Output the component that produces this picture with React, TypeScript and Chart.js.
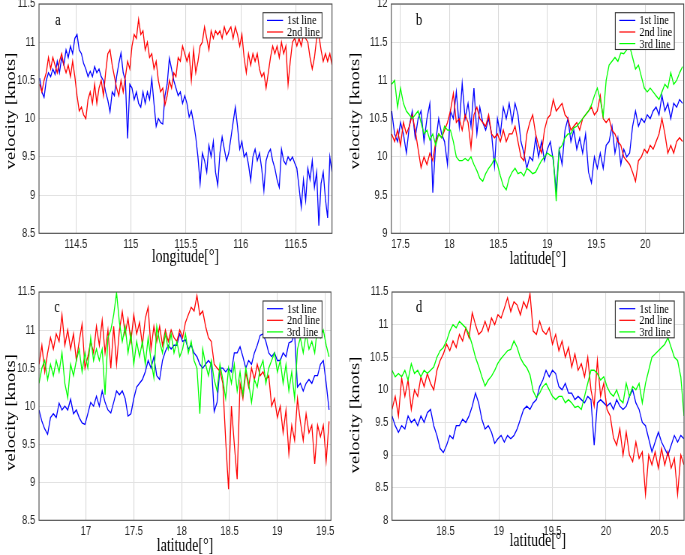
import React, { useEffect, useRef } from "react";
import { Chart, registerables } from "chart.js";

Chart.register(...registerables);

// ---------------- DATA ----------------
const SERIES_NAMES = ["1st line", "2nd line", "3rd line"];
const SERIES_COLORS = ["#0000ff", "#ff0000", "#00ff00"];
const Y_TITLE = "velocity [knots]";

// Panel a (longitude)
const A_X_START = 114.17;
const A_X_STEP = 0.02;
const A_X_TICKS = [114.5, 115, 115.5, 116, 116.5];
const A_Y_TICKS = [8.5, 9, 9.5, 10, 10.5, 11, 11.5];
const A_LINE1 = [
  10.53, 10.35, 10.28, 10.5, 10.6, 10.55, 10.65, 10.58, 10.75, 10.6,
  10.8, 10.7, 10.9, 10.8, 10.95, 10.85, 11.05, 11.1, 10.9, 10.85,
  10.72, 10.65, 10.55, 10.62, 10.55, 10.68, 10.6, 10.65, 10.55, 10.5,
  10.35, 10.24, 10.09, 10.35, 10.3, 10.55, 10.72, 10.86, 10.6, 10.5,
  9.74, 10.45, 10.4, 10.25, 10.35, 10.2, 10.15, 10.35, 10.2, 10.35,
  10.25, 10.52, 10.2, 9.9, 10.0, 9.95, 9.93, 10.3, 10.45, 10.79,
  10.65, 10.5, 10.4, 10.3, 10.35, 10.2, 10.3, 10.2, 10.02, 10.1,
  9.95, 9.76, 9.5, 9.15, 9.55, 9.45, 9.3, 9.65, 9.5, 9.7,
  9.3, 9.13, 9.55, 9.76, 9.6, 9.45, 9.55, 9.75, 9.95, 10.15,
  9.9, 9.6, 9.7, 9.5, 9.55, 9.4, 9.19, 9.5, 9.6, 9.45,
  9.55, 9.35, 9.06, 9.45, 9.55, 9.6, 9.45, 9.35, 9.2, 9.1,
  9.6, 9.45, 9.4, 9.5, 9.45, 9.5, 9.42, 9.35, 9.1, 8.84,
  9.2, 8.93, 9.35, 9.2, 9.45, 9.1, 9.3, 8.6, 9.15, 9.3,
  8.95, 8.7, 9.5, 9.3,
];
const A_LINE2 = [
  10.45, 10.35, 10.5, 10.6, 10.8, 10.65, 10.8, 10.7, 10.6, 10.75,
  10.85, 10.7, 10.6, 10.7, 10.55, 10.75, 10.55, 10.3, 10.1, 10.15,
  10.05, 10.0, 10.25, 10.35, 10.2, 10.45, 10.2, 10.4, 10.5, 10.3,
  10.6, 10.85, 10.9, 10.7, 10.55, 10.4, 10.3, 10.5, 10.35, 10.55,
  10.75, 10.65, 10.95, 11.1, 11.05, 11.3, 11.1, 11.15, 10.9, 11.0,
  10.8, 10.85, 10.65, 10.75, 10.5, 10.35, 10.4, 10.18, 10.3, 10.5,
  10.4, 10.6, 10.55, 10.8, 10.75, 10.95, 10.85, 10.75, 10.85, 10.5,
  10.9, 10.6, 10.75, 10.95, 11.0, 11.2, 11.05, 10.9, 11.15, 11.05,
  11.15, 11.1, 11.15, 11.05, 11.2, 11.1, 11.15, 11.2, 11.05, 11.2,
  11.1, 10.95, 11.1, 10.8, 10.6, 10.85, 10.7, 10.85, 10.75, 10.85,
  10.65, 10.55, 10.6, 10.4, 10.6, 10.8, 10.95, 10.85, 10.95, 10.8,
  11.0, 10.85, 10.95, 10.45, 10.75, 11.0, 11.05, 10.95, 11.05, 10.95,
  11.1, 11.05, 11.0, 10.8, 10.65, 10.8, 11.05, 11.1, 10.9, 10.75,
  10.85, 10.75, 10.85, 10.7,
];

// Panel b (latitude)
const B_X_START = 17.41;
const B_X_STEP = 0.03;
const B_X_TICKS = [17.5, 18, 18.5, 19, 19.5, 20];
const B_Y_TICKS = [9, 9.5, 10, 10.5, 11, 11.5, 12];
const B_LINE1 = [
  10.6, 10.3, 10.2, 10.45, 10.3, 10.05, 10.4, 10.6, 10.25, 10.5,
  10.6, 10.2, 10.5, 10.7, 9.53, 10.2, 10.5, 10.3, 10.2, 9.9,
  10.6, 10.5, 10.85, 10.4, 10.96, 10.5, 10.7, 10.4, 10.9, 10.3,
  10.65, 10.45, 10.35, 10.5, 10.3, 9.88, 10.5, 10.3, 10.65, 10.5,
  10.7, 10.45, 10.7, 10.55, 10.2, 10.05, 9.85, 10.0, 9.95, 10.25,
  10.0, 10.2, 9.95, 10.1, 10.2, 9.95, 9.56, 10.1, 9.9, 10.35,
  10.5, 10.2, 10.35, 10.1, 10.25, 10.05, 10.3, 9.8, 9.66, 10.0,
  9.85, 10.05, 9.85, 10.15, 10.2, 10.4, 10.05, 10.25, 9.9, 10.1,
  10.0, 10.05, 10.4, 10.6, 10.4, 10.5, 10.45, 10.55, 10.5, 10.6,
  10.65, 10.55, 10.8, 10.6, 10.7, 10.5, 10.7, 10.65, 10.75, 10.7,
];
const B_LINE2 = [
  10.3, 10.2, 10.35, 10.15, 10.45, 10.3, 10.4, 10.55, 10.35, 10.1,
  9.86, 10.0, 9.9, 10.05, 9.95, 10.2, 10.3, 10.25, 10.35, 10.45,
  10.6, 10.83, 10.45, 10.5, 10.35, 10.55, 10.45, 10.12, 10.55, 10.65,
  10.5, 10.45, 10.4, 10.55, 10.3, 10.25, 10.3, 10.2, 10.35, 10.2,
  10.3, 10.3, 10.4, 10.2, 10.0, 9.95, 10.3, 10.45, 10.55, 10.3,
  10.15, 10.05, 10.35, 10.5, 10.55, 10.75, 10.6, 10.65, 10.7, 10.55,
  10.5, 10.35, 10.4, 10.45, 10.35, 10.5, 10.55, 10.6, 10.65, 10.55,
  10.6, 10.8, 10.5, 10.45, 10.5, 10.35, 10.3, 10.2, 10.15, 10.0,
  9.95, 9.9, 9.8, 9.68, 9.95, 10.0, 10.1, 10.05, 10.15, 10.1,
  10.2, 10.3, 10.5, 10.3, 10.05, 10.15, 10.05, 10.2, 10.25, 10.2,
];
const B_LINE3 = [
  10.95, 11.0, 10.65, 10.9, 10.7, 10.6, 10.55, 10.5, 10.55, 10.6,
  10.45, 10.3, 10.35, 10.22, 10.3, 10.15, 10.3, 10.25, 10.4, 10.35,
  10.35, 10.2, 10.0, 9.95, 9.95, 9.98, 9.95, 10.0, 9.9, 9.82,
  9.72, 9.68, 9.78, 9.85, 9.9, 9.98, 9.9, 9.75, 9.62, 9.57,
  9.72, 9.8, 9.85, 9.78, 9.8, 9.75, 9.85, 9.82, 9.78, 9.8,
  9.88, 9.95, 10.0, 10.05, 10.02, 10.0, 9.42, 10.1, 10.15, 10.25,
  10.3, 10.3, 10.38, 10.4, 10.45, 10.5, 10.55, 10.6, 10.68, 10.8,
  10.9, 10.75, 10.53, 11.0, 11.2, 11.25, 11.3, 11.25, 11.36, 11.35,
  11.4, 11.45, 11.3, 11.15, 11.2, 11.05, 10.9, 10.85, 10.9, 10.85,
  10.8, 10.75, 10.85, 10.95, 10.9, 11.1, 10.95, 11.0, 11.1, 11.18,
];

// Panel c (latitude)
const C_X_START = 16.51;
const C_X_STEP = 0.03;
const C_X_TICKS = [17, 17.5, 18, 18.5, 19, 19.5];
const C_Y_TICKS = [8.5, 9, 9.5, 10, 10.5, 11, 11.5];
const C_LINE1 = [
  9.95, 9.8, 9.7, 9.63, 9.85, 9.9, 9.85, 10.04, 9.95, 10.0,
  9.95, 10.09, 9.9, 9.95, 9.85, 9.78, 9.76, 9.9, 10.05, 10.0,
  10.13, 10.0, 10.2, 10.05, 9.95, 9.91, 10.05, 10.2, 10.15, 10.2,
  10.1, 9.87, 9.9, 10.1, 10.25, 10.3, 10.35, 10.45, 10.6, 10.5,
  10.65, 10.4, 10.35, 10.6, 10.72, 10.8, 10.75, 10.8, 10.8, 10.95,
  10.85, 10.87, 10.75, 10.8, 10.7, 10.65, 10.55, 10.5, 10.55, 10.6,
  10.55, 9.93, 10.05, 10.5, 10.5, 10.45, 10.5, 10.45, 10.7, 10.7,
  10.78, 10.65, 10.5, 10.6, 10.55, 10.7, 10.8, 10.93, 10.95, 10.85,
  10.7, 10.65, 10.7, 10.6, 10.6, 10.7, 10.65, 10.83, 10.85, 10.95,
  10.25, 10.3, 10.2, 10.3, 10.35, 10.3, 10.4, 10.4, 10.55, 10.6,
  10.3, 9.95,
];
const C_LINE2 = [
  10.55, 10.8, 10.45, 10.7, 10.9, 10.75, 10.95, 10.85, 11.2, 10.8,
  11.0, 10.75, 10.95, 10.6, 10.85, 11.08, 10.5, 10.65, 10.85, 10.7,
  11.05, 10.8, 11.13, 10.7, 11.0, 10.5, 11.05, 10.55, 11.0, 11.24,
  10.95, 11.15, 10.85, 11.2, 10.95, 11.1, 10.8, 11.15, 11.3, 10.75,
  11.05, 10.85, 11.05, 10.8, 11.0, 10.85, 11.0, 10.9, 10.85, 11.0,
  10.9, 11.1, 11.2, 11.3, 11.25, 11.45, 11.2, 11.25, 11.05, 10.9,
  10.85, 10.55, 10.5, 10.46, 10.3, 9.55, 8.91, 10.0, 9.5, 9.04,
  10.3, 10.1, 10.45, 10.25, 10.5, 10.35, 10.55, 10.4, 10.45, 10.35,
  10.4, 10.0, 10.1, 9.85, 10.0, 9.65, 9.95, 9.37, 9.75, 9.55,
  10.1, 9.8, 9.55, 9.9, 9.65, 9.75, 9.24, 9.75, 9.6, 9.75,
  9.28, 9.8,
];
const C_LINE3 = [
  10.3, 10.5, 10.6, 10.35, 10.55, 10.4, 10.6, 10.45, 10.7, 10.3,
  10.11, 10.55, 10.4, 10.6, 10.75, 10.45, 10.7, 10.5, 10.9, 10.6,
  10.75, 10.6, 10.75, 10.15, 10.9, 11.0, 11.2, 11.49, 11.1, 10.85,
  11.05, 10.7, 10.95, 10.55, 10.85, 10.65, 10.85, 10.55, 10.9, 10.6,
  10.37, 11.05, 10.85, 10.7, 10.95, 10.75, 10.95, 10.7, 10.85, 10.65,
  10.75, 10.95, 10.7, 10.85, 10.6, 10.5, 9.9, 10.75, 10.55, 10.4,
  10.6, 10.35, 10.2, 10.55, 10.35, 10.1, 10.5, 10.3, 10.55, 10.2,
  10.45, 10.15, 10.5, 10.3, 10.05, 10.35, 10.25, 10.5, 10.6, 10.3,
  10.5, 10.6, 10.7, 10.45, 10.6, 10.3, 10.55, 10.2, 10.45, 10.1,
  10.75, 10.9, 10.7, 10.95, 10.75, 10.85, 10.7, 11.06, 10.9, 11.0,
  10.8, 10.65,
];

// Panel d (latitude)
const D_X_START = 18.0;
const D_X_STEP = 0.03;
const D_X_TICKS = [18.5, 19, 19.5, 20, 20.5];
const D_Y_TICKS = [8, 8.5, 9, 9.5, 10, 10.5, 11, 11.5];
const D_LINE1 = [
  9.6, 9.45, 9.35, 9.45, 9.4, 9.6, 9.5, 9.55, 9.45, 9.6,
  9.5, 9.65, 9.7, 9.45, 9.3, 9.1, 9.04, 9.15, 9.3, 9.25,
  9.45, 9.45, 9.55, 9.5, 9.6, 9.75, 9.95, 9.8, 9.55, 9.4,
  9.45, 9.35, 9.18, 9.25, 9.3, 9.2, 9.3, 9.25, 9.3, 9.4,
  9.55, 9.7, 9.75, 9.7, 9.8, 9.85, 10.05, 10.15, 10.3, 10.2,
  10.3, 10.25, 10.05, 10.0, 10.1, 9.95, 9.95, 9.85, 9.9, 9.85,
  9.8, 9.9, 9.85, 9.15, 9.8, 9.85, 9.8, 9.75, 9.8, 9.7,
  9.85, 9.75, 9.7, 9.75, 9.9, 10.0, 9.8, 9.7, 9.5, 9.45,
  9.25, 9.05, 9.2, 9.35, 9.2, 9.1, 9.0, 9.15, 9.3, 9.2,
  9.3, 9.25,
];
const D_LINE2 = [
  9.7, 9.9, 9.6, 10.18, 9.9, 10.15, 9.7, 10.0, 9.9, 10.2,
  10.05, 10.25, 10.1, 10.0, 10.3, 10.45, 10.55, 10.7, 10.6, 10.75,
  10.65, 10.85, 10.75, 10.95, 10.8, 11.18, 11.0, 10.85, 10.9, 11.05,
  10.9, 11.1, 11.0, 11.15, 11.1, 11.25, 11.41, 11.2, 11.35, 11.3,
  11.15, 11.35, 11.25, 11.47, 10.9, 10.85, 11.05, 10.9, 10.85, 10.95,
  10.7, 10.85, 10.6, 10.75, 10.5, 10.65, 10.35, 10.55, 10.3, 10.4,
  10.2, 10.5, 10.0, 9.75, 10.45, 9.9, 10.1, 9.7, 9.6, 9.27,
  9.15, 9.4, 9.0, 9.35, 9.0, 8.9, 9.2, 8.95, 9.05, 8.4,
  9.0, 8.85, 9.05, 8.8, 9.1, 8.85, 9.05, 8.8, 8.95, 8.4,
  9.0, 8.85,
];
const D_LINE3 = [
  10.3, 10.2, 10.25, 10.2, 10.3, 10.15, 10.4, 10.25, 10.3, 10.2,
  10.3, 10.25, 10.3, 10.35, 10.5, 10.6, 10.65, 10.75, 10.9, 11.0,
  10.95, 11.05, 11.0, 10.95, 10.85, 10.69, 10.5, 10.36, 10.2, 10.06,
  10.15, 10.21, 10.3, 10.41, 10.48, 10.54, 10.6, 10.62, 10.75, 10.65,
  10.49, 10.4, 10.34, 10.23, 9.98, 9.88, 9.95, 10.05, 10.1, 10.0,
  9.9, 9.85, 9.9, 9.9, 9.8, 9.85, 9.8, 9.73, 9.75, 9.7,
  9.9, 10.1, 10.3, 10.3, 10.25, 10.15, 10.2, 10.05, 9.95, 9.9,
  10.0, 9.85, 9.8, 10.1, 9.9, 10.05, 10.0, 10.1, 9.8, 10.1,
  10.3, 10.5, 10.55, 10.6, 10.65, 10.7, 10.8, 10.65, 10.5, 10.45,
  10.2, 9.6,
];

// ---------------- LAYOUT / STYLE ----------------
const SQ = 0.75; // horizontal squeeze of the original figure
const FONT_SANS = '"Liberation Sans", Arial, Helvetica, sans-serif';
const FONT_SERIF = '"Liberation Serif", "Times New Roman", Times, serif';

type PanelSpec = {
  key: string;
  pageX: number;
  pageY: number;
  pageW: number;
  pageH: number;
  area: { l: number; r: number; t: number; b: number };
  xMin: number;
  xMax: number;
  yMin: number;
  yMax: number;
  xTicks: number[];
  yTicks: number[];
  x0: number;
  dx: number;
  lines: number[][];
  xTitle: string;
  letterPos: [number, number];
  yTitlePos: [number, number];
  xTitlePos: [number, number];
  legendPos: [number, number];
};

const PANELS: PanelSpec[] = [
  {
    key: "a", pageX: 0, pageY: 0, pageW: 342, pageH: 277,
    area: { l: 52, r: 442.7, t: 4, b: 233.3 },
    xMin: 114.164, xMax: 116.83, yMin: 8.5, yMax: 11.5,
    xTicks: A_X_TICKS, yTicks: A_Y_TICKS, x0: A_X_START, dx: A_X_STEP,
    lines: [A_LINE1, A_LINE2], xTitle: "longitude[°]",
    letterPos: [77.3, 21], yTitlePos: [14.7, 111], xTitlePos: [247.2, 257.5], legendPos: [350.7, 12.7],
  },
  {
    key: "b", pageX: 342, pageY: 0, pageW: 343, pageH: 277,
    area: { l: 65.7, r: 455.6, t: 4, b: 233.3 },
    xMin: 17.406, xMax: 20.392, yMin: 9, yMax: 12,
    xTicks: B_X_TICKS, yTicks: B_Y_TICKS, x0: B_X_START, dx: B_X_STEP,
    lines: [B_LINE1, B_LINE2, B_LINE3], xTitle: "latitude[°]",
    letterPos: [102.7, 21], yTitlePos: [17.8, 111], xTitlePos: [261, 259], legendPos: [364.4, 12.7],
  },
  {
    key: "c", pageX: 0, pageY: 277, pageW: 342, pageH: 278,
    area: { l: 52, r: 441.3, t: 15, b: 243.3 },
    xMin: 16.51, xMax: 19.56, yMin: 8.5, yMax: 11.5,
    xTicks: C_X_TICKS, yTicks: C_Y_TICKS, x0: C_X_START, dx: C_X_STEP,
    lines: [C_LINE1, C_LINE2, C_LINE3], xTitle: "latitude[°]",
    letterPos: [76, 31], yTitlePos: [15.6, 135.5], xTitlePos: [246.7, 269], legendPos: [350.7, 24],
  },
  {
    key: "d", pageX: 342, pageY: 277, pageW: 343, pageH: 278,
    area: { l: 66.7, r: 456, t: 15, b: 243.3 },
    xMin: 18.0, xMax: 20.73, yMin: 8, yMax: 11.5,
    xTicks: D_X_TICKS, yTicks: D_Y_TICKS, x0: D_X_START, dx: D_X_STEP,
    lines: [D_LINE1, D_LINE2, D_LINE3], xTitle: "latitude[°]",
    letterPos: [102.7, 31], yTitlePos: [17.8, 138], xTitlePos: [261, 264.5], legendPos: [364.4, 24],
  },
];

function makeDecor(p: PanelSpec) {
  return {
    id: "decor_" + p.key,
    afterDraw(chart: any) {
      const ctx = chart.ctx as CanvasRenderingContext2D;
      const a = chart.chartArea;
      ctx.save();
      // axes box
      ctx.strokeStyle = "#4a4a4a";
      ctx.lineWidth = 1.1;
      ctx.strokeRect(a.left, a.top, a.right - a.left, a.bottom - a.top);

      // panel letter
      ctx.fillStyle = "#000";
      ctx.textAlign = "center";
      ctx.textBaseline = "middle";
      ctx.font = `17px ${FONT_SERIF}`;
      ctx.fillText(p.key, p.letterPos[0], p.letterPos[1]);

      // legend
      const n = p.lines.length;
      const lx = p.legendPos[0];
      const ly = p.legendPos[1];
      const lw = 78.7;
      const lh = 11.6 * n + 2;
      ctx.fillStyle = "#ffffff";
      ctx.fillRect(lx, ly, lw, lh);
      ctx.strokeStyle = "#333";
      ctx.lineWidth = 1.1;
      ctx.strokeRect(lx, ly, lw, lh);
      ctx.font = `13.5px ${FONT_SERIF}`;
      ctx.textAlign = "left";
      for (let i = 0; i < n; i++) {
        const ry = ly + 7.7 + 11.6 * i;
        ctx.strokeStyle = SERIES_COLORS[i];
        ctx.lineWidth = 1.2;
        ctx.beginPath();
        ctx.moveTo(lx + 5.3, ry);
        ctx.lineTo(lx + 26.7, ry);
        ctx.stroke();
        ctx.fillStyle = "#000";
        ctx.fillText(SERIES_NAMES[i], lx + 32, ry + 0.5);
      }

      // axis titles
      ctx.fillStyle = "#000";
      ctx.textAlign = "center";
      ctx.textBaseline = "middle";
      ctx.font = `18.5px ${FONT_SERIF}`;
      ctx.fillText(p.xTitle, p.xTitlePos[0], p.xTitlePos[1]);
      ctx.translate(p.yTitlePos[0], p.yTitlePos[1]);
      ctx.rotate(-Math.PI / 2);
      ctx.fillText(Y_TITLE, 0, 0);
      ctx.restore();
    },
  };
}

function Panel({ p }: { p: PanelSpec }) {
  const ref = useRef<HTMLCanvasElement | null>(null);
  const cw = Math.round(p.pageW / SQ);
  const ch = p.pageH;

  useEffect(() => {
    if (!ref.current) return;
    const orders = [2, 1, 0];
    const datasets = p.lines.map((vals, i) => ({
      label: SERIES_NAMES[i],
      data: vals.map((y, k) => ({ x: p.x0 + k * p.dx, y })),
      borderColor: SERIES_COLORS[i],
      backgroundColor: SERIES_COLORS[i],
      borderWidth: 1.3,
      pointRadius: 0,
      pointHoverRadius: 0,
      fill: false,
      tension: 0,
      order: orders[i],
    }));
    const tickFont = { family: FONT_SANS, size: 12.5 };
    const chart = new Chart(ref.current, {
      type: "line",
      data: { datasets } as any,
      options: {
        responsive: false,
        maintainAspectRatio: false,
        animation: false,
        devicePixelRatio: 1,
        events: [],
        layout: { padding: { left: 0, top: p.area.t, right: cw - p.area.r, bottom: 0 } },
        plugins: { legend: { display: false }, tooltip: { enabled: false }, title: { display: false } },
        scales: {
          x: {
            type: "linear",
            min: p.xMin,
            max: p.xMax,
            border: { display: false },
            grid: { color: "#d9d9d9", lineWidth: 1.1, drawTicks: false },
            ticks: {
              font: tickFont,
              color: "#262626",
              padding: 4,
              autoSkip: false,
              maxRotation: 0,
              callback: (v: any) => String(v),
            },
            afterBuildTicks: (s: any) => {
              s.ticks = p.xTicks.map((v) => ({ value: v }));
            },
            afterFit: (s: any) => {
              s.height = ch - p.area.b;
              s.paddingLeft = 0;
              s.paddingRight = 0;
            },
          },
          y: {
            type: "linear",
            min: p.yMin,
            max: p.yMax,
            border: { display: false },
            grid: { color: "#e2e2e2", lineWidth: 1, drawTicks: false },
            ticks: {
              font: tickFont,
              color: "#262626",
              padding: 5,
              autoSkip: false,
              callback: (v: any) => String(v),
            },
            afterBuildTicks: (s: any) => {
              s.ticks = p.yTicks.map((v) => ({ value: v }));
            },
            afterFit: (s: any) => {
              s.width = p.area.l;
              s.paddingTop = 0;
              s.paddingBottom = 0;
            },
          },
        },
      } as any,
      plugins: [makeDecor(p)],
    });
    return () => chart.destroy();
  }, []);

  return (
    <div
      style={{
        position: "absolute",
        left: p.pageX,
        top: p.pageY,
        width: p.pageW,
        height: p.pageH,
        overflow: "hidden",
        background: "#fff",
      }}
    >
      <canvas
        ref={ref}
        width={cw}
        height={ch}
        style={{
          display: "block",
          width: cw,
          height: ch,
          transform: `scaleX(${SQ})`,
          transformOrigin: "0 0",
        }}
      />
    </div>
  );
}

export default function App() {
  return (
    <div style={{ position: "absolute", left: 0, top: 0, width: 685, height: 555, background: "#fff" }}>
      {PANELS.map((p) => (
        <Panel key={p.key} p={p} />
      ))}
    </div>
  );
}
